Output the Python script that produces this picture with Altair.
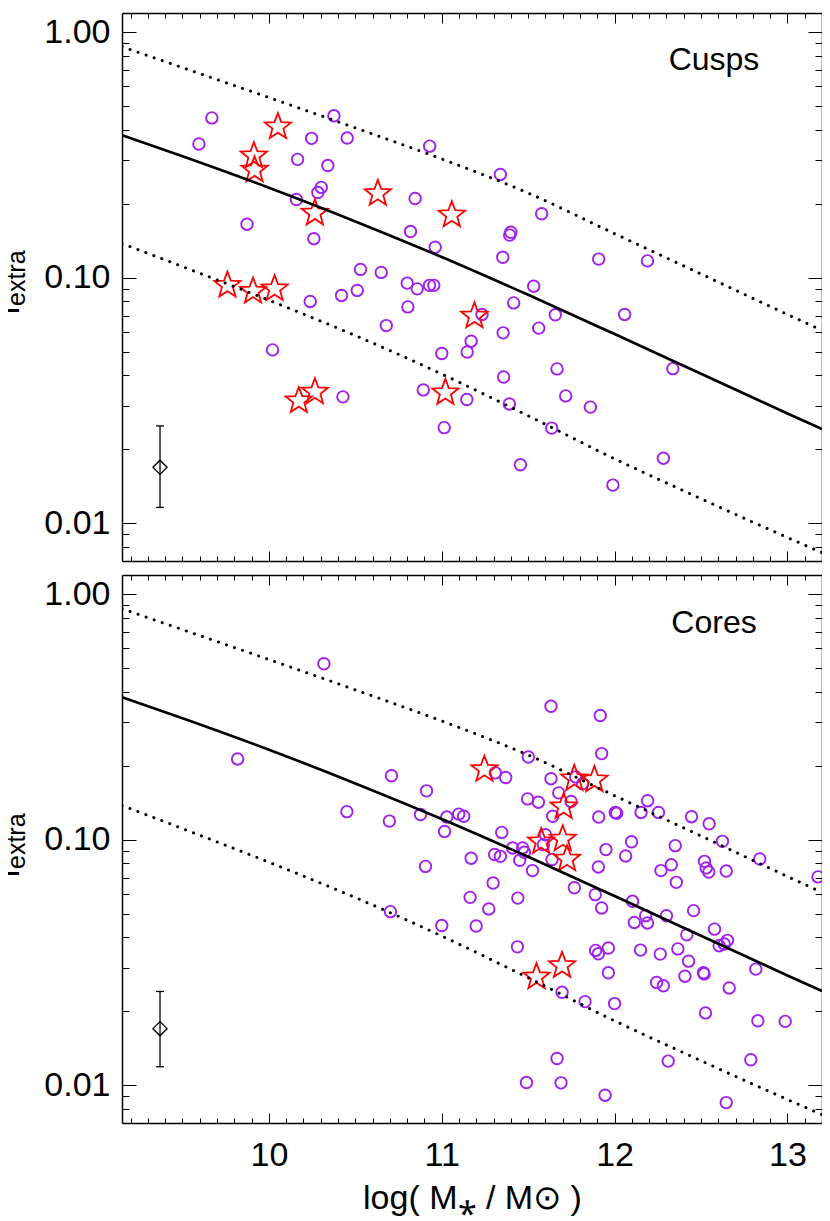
import math
import altair as alt
import pandas as pd

# ---------------- data ----------------
cusp_circ_x = [9.67, 9.595, 10.376, 10.247, 10.453, 10.166, 10.341, 10.303, 10.283, 10.159,
               10.846, 9.873, 10.26, 10.819, 10.53, 10.65, 10.80, 10.93, 11.339, 11.578,
               11.40, 11.393, 10.962, 11.353, 11.908, 12.19, 10.929, 10.954, 10.858, 10.239,
               10.42, 10.511, 10.804, 10.679, 10.021, 10.428, 11.532, 11.416, 11.233, 11.657,
               12.058, 11.355, 11.561, 11.17, 11.147, 11.0, 11.667, 12.337, 11.358, 10.893,
               11.145, 11.717, 11.391, 11.86, 11.014, 11.636, 11.455, 12.282, 11.99]
cusp_circ_y = [0.447, 0.35, 0.456, 0.369, 0.370, 0.303, 0.286, 0.233, 0.222, 0.208,
               0.21, 0.165, 0.144, 0.154, 0.108, 0.105, 0.095, 0.343, 0.263, 0.182,
               0.153, 0.149, 0.133, 0.121, 0.119, 0.117, 0.093, 0.093, 0.090, 0.080,
               0.0846, 0.0887, 0.076, 0.0638, 0.0508, 0.0327, 0.0923, 0.0789, 0.0708, 0.0706,
               0.0708, 0.0596, 0.0623, 0.0551, 0.0498, 0.0491, 0.0425, 0.0426, 0.0394, 0.0349,
               0.0319, 0.033, 0.0306, 0.0297, 0.0245, 0.0244, 0.0173, 0.0184, 0.0143]

cusp_star_x = [10.052, 9.913, 9.917, 10.63, 10.266, 11.058, 9.76, 9.908, 10.033, 10.173,
               10.266, 11.189, 11.021]
cusp_star_y = [0.411, 0.313, 0.274, 0.220, 0.183, 0.180, 0.093, 0.088, 0.090, 0.0315,
               0.0342, 0.0697, 0.034]

core_circ_x = [10.318, 9.819, 10.709, 10.451, 10.697, 11.632, 11.917, 11.925, 11.501, 11.31,
               11.37, 11.632, 11.775, 11.815, 10.912, 11.677, 11.497, 11.559, 11.748, 11.642,
               11.908, 12.004, 12.012, 12.191, 12.153, 12.254, 12.445, 12.547, 12.624, 10.877,
               11.029, 11.098, 11.127, 11.016, 11.347, 11.6, 12.098, 11.95, 12.351, 11.588,
               11.41, 11.468, 11.478, 10.906, 11.17, 11.306, 11.339, 11.451, 11.638, 11.525,
               11.906, 12.064, 12.268, 12.328, 12.357, 12.52, 12.53, 12.545, 12.646, 12.84,
               13.177, 11.297, 11.767, 11.888, 11.164, 11.44, 11.925, 11.272, 12.104, 12.457,
               12.3, 12.18, 12.19, 12.114, 11.0, 11.199, 12.418, 12.578, 12.605, 12.634,
               12.653, 11.438, 11.89, 11.906, 11.964, 12.15, 12.264, 12.366, 12.428, 12.817,
               11.964, 12.407, 12.514, 12.518, 12.243, 12.282, 12.663, 11.696, 11.829, 12.0,
               12.526, 12.829, 12.987, 11.667, 12.31, 12.788, 11.49, 11.69, 11.945, 12.646,
               10.703]
core_circ_y = [0.520, 0.213, 0.182, 0.130, 0.119, 0.349, 0.320, 0.224, 0.217, 0.187,
               0.179, 0.177, 0.180, 0.169, 0.158, 0.155, 0.1465, 0.142, 0.143, 0.1245,
               0.1236, 0.129, 0.128, 0.144, 0.129, 0.129, 0.124, 0.116, 0.0984, 0.1265,
               0.1236, 0.127, 0.1245, 0.108, 0.107, 0.1047, 0.098, 0.0911, 0.0945, 0.0954,
               0.0925, 0.0925, 0.0888, 0.0778, 0.084, 0.087, 0.0855, 0.0824, 0.083, 0.0748,
               0.0774, 0.0858, 0.0748, 0.079, 0.067, 0.0816, 0.0767, 0.0738, 0.0745, 0.0834,
               0.0705, 0.0666, 0.0637, 0.0597, 0.0582, 0.0578, 0.0527, 0.0522, 0.0561, 0.0514,
               0.049, 0.049, 0.0458, 0.046, 0.0447, 0.0445, 0.041, 0.0432, 0.037, 0.0376,
               0.0389, 0.0366, 0.0354, 0.0343, 0.0362, 0.0355, 0.0342, 0.0359, 0.032, 0.0297,
               0.0287, 0.0278, 0.0287, 0.0284, 0.0262, 0.0254, 0.0249, 0.0239, 0.0219, 0.0215,
               0.0197, 0.0183, 0.0182, 0.01285, 0.01254, 0.0127, 0.01026, 0.01023, 0.00911, 0.0085,
               0.0509]

core_star_x = [11.247, 11.767, 11.883, 11.705, 11.575, 11.70, 11.725, 11.548, 11.696]
core_star_y = [0.193, 0.177, 0.175, 0.136, 0.098, 0.1006, 0.0834, 0.0276, 0.0307]

curve_x = [9.15, 9.5, 10.0, 10.5, 11.0, 11.5, 12.0, 12.5, 13.0, 13.2]
curve_mid = [0.380, 0.3119, 0.2323, 0.1694, 0.1213, 0.0851, 0.0589, 0.0406, 0.0280, 0.0242]
curve_hi = [0.871, 0.716, 0.541, 0.407, 0.304, 0.221, 0.151, 0.1035, 0.0708, 0.0610]
curve_lo = [0.1377, 0.1109, 0.0809, 0.0581, 0.0405, 0.0274, 0.0183, 0.01259, 0.00875, 0.00759]

err_x = [9.37]
cusp_err = [0.0116, 0.0169, 0.0249]   # low, centre, high
core_err = [0.0119, 0.0170, 0.0241]

panel_labels = ["Cusps", "Cores"]

x_major = [10, 11, 12, 13]
x_minor = [round(9.2 + 0.1 * i, 1) for i in range(41) if (i + 2) % 10 != 0]
y_major = [0.01, 0.1, 1.0]
y_minor = [0.008, 0.009, 0.02, 0.03, 0.04, 0.05, 0.06, 0.07, 0.08, 0.09,
           0.2, 0.3, 0.4, 0.5, 0.6, 0.7, 0.8, 0.9]

# ---------------- styling ----------------
FONT = "Liberation Sans"
PURPLE = "#A020F0"
RED = "#FF0000"
W, H = 700, 1110
PH = 548          # panel height
TOP_RANGE = [PH, 0]
BOT_RANGE = [H, H - PH]

xs = alt.Scale(domain=[9.15, 13.2], nice=False, zero=False)
DOM = [0.00702, 1.195]
ys_top = alt.Scale(type="log", domain=DOM, range=TOP_RANGE, nice=False)
ys_bot = alt.Scale(type="log", domain=DOM, range=BOT_RANGE, nice=False)


def star_path(r_in=0.42):
    pts = []
    for k in range(10):
        ang = math.radians(-90 + 36 * k)
        r = 1.0 if k % 2 == 0 else r_in
        pts.append(f"{r * math.cos(ang):.4f},{r * math.sin(ang):.4f}")
    return "M" + "L".join(pts) + "Z"


STAR = star_path()


def enc(ys):
    return dict(x=alt.X("x:Q", scale=xs, axis=None),
                y=alt.Y("y:Q", scale=ys, axis=None))


def panel_layers(cx, cy, sx, sy, err, label, ys, dy):
    layers = []
    circ = pd.DataFrame({"x": cx, "y": cy})
    stars = pd.DataFrame({"x": sx, "y": sy})
    layers.append(alt.Chart(circ).mark_point(shape="circle", filled=False, color=PURPLE,
                                             size=132, strokeWidth=1.9, opacity=1).encode(**enc(ys)))
    layers.append(alt.Chart(stars).mark_point(shape=STAR, filled=False, color=RED,
                                              size=760, strokeWidth=1.8, opacity=1).encode(**enc(ys)))
    for vals, dash in ((curve_mid, None), (curve_hi, [0.1, 8.4]), (curve_lo, [0.1, 8.4])):
        df = pd.DataFrame({"x": curve_x, "y": vals})
        if dash is None:
            m = alt.Chart(df).mark_line(color="black", strokeWidth=2.7, clip=True,
                                        interpolate="monotone")
        else:
            m = alt.Chart(df).mark_line(color="black", strokeWidth=3.0, strokeDash=dash,
                                        strokeCap="round", clip=True, interpolate="monotone")
        layers.append(m.encode(**enc(ys)))
    # error bar
    ebar = pd.DataFrame({"x": err_x, "lo": [err[0]], "hi": [err[2]]})
    layers.append(alt.Chart(ebar).mark_rule(color="black", strokeWidth=1.3).encode(
        x=alt.X("x:Q", scale=xs, axis=None),
        y=alt.Y("lo:Q", scale=ys, axis=None), y2="hi:Q"))
    caps = pd.DataFrame({"x": err_x * 2, "y": [err[0], err[2]]})
    layers.append(alt.Chart(caps).mark_point(shape="stroke", filled=False, color="black",
                                             size=64, strokeWidth=1.3, opacity=1).encode(**enc(ys)))
    cen = pd.DataFrame({"x": err_x, "y": [err[1]]})
    layers.append(alt.Chart(cen).mark_point(shape="diamond", filled=False, color="black",
                                            size=200, strokeWidth=1.3, opacity=1).encode(**enc(ys)))
    # texts
    layers.append(alt.Chart(pd.DataFrame({"t": [label]})).mark_text(
        font=FONT, fontSize=32, color="black", align="center", baseline="alphabetic").encode(
        text="t:N", x=alt.value(592), y=alt.value(57 + dy)))
    layers.append(alt.Chart(pd.DataFrame({"t": ["f"]})).mark_text(
        font=FONT, fontSize=34, color="black", align="left", baseline="alphabetic", angle=270).encode(
        text="t:N", x=alt.value(-103), y=alt.value(302 + dy)))
    layers.append(alt.Chart(pd.DataFrame({"t": ["extra"]})).mark_text(
        font=FONT, fontSize=25, color="black", align="left", baseline="alphabetic", angle=270).encode(
        text="t:N", x=alt.value(-97), y=alt.value(293 + dy)))
    return layers


def tick_axis(orient, offset, values, size, domain=False):
    return alt.Axis(orient=orient, offset=offset, values=values, tickSize=size, ticks=True,
                    labels=False, domain=domain, domainColor="black", domainWidth=1.5,
                    tickColor="black", tickWidth=1, grid=False, title=None)


def y_label_axis():
    return alt.Axis(orient="left", values=y_major, format=".2f", ticks=False, tickSize=0,
                    labelPadding=12, labelFont=FONT, labelFontSize=34, labelColor="black",
                    domain=True, domainColor="black", domainWidth=1.5, grid=False, title=None,
                    labelFlush=False)


x_label_axis = alt.Axis(orient="bottom", offset=0, values=x_major, format="d", ticks=False,
                        tickSize=0, labelPadding=15, labelFont=FONT, labelFontSize=34,
                        labelColor="black", labelFlush=False, domain=True, domainColor="black",
                        domainWidth=1.5, grid=False,
                        title="log( M\u204e / M\u2299 )", titleFont=FONT, titleFontSize=34,
                        titleFontWeight="normal", titleColor="black", titlePadding=9)

host_df = pd.DataFrame({"x": [curve_x[1]], "y": [curve_mid[1]]})


def host(ys, xaxis, yaxis):
    return alt.Chart(host_df).mark_point(opacity=0).encode(
        x=alt.X("x:Q", scale=xs, axis=xaxis),
        y=alt.Y("y:Q", scale=ys, axis=yaxis))


hosts = [
    # top panel
    host(ys_top, tick_axis("bottom", -H, x_major, 10, domain=True), y_label_axis()),
    host(ys_top, tick_axis("bottom", -H, x_minor, 5), tick_axis("right", -W, y_major, 14)),
    host(ys_top, tick_axis("top", -PH, x_major, 10, domain=True), tick_axis("right", -W, y_minor, 7)),
    host(ys_top, tick_axis("top", -PH, x_minor, 5), tick_axis("left", -W, y_major, 14, domain=True)),
    host(ys_top, None, tick_axis("left", -W, y_minor, 7)),
    # bottom panel
    host(ys_bot, tick_axis("bottom", -PH, x_major, 10, domain=True), y_label_axis()),
    host(ys_bot, tick_axis("bottom", -PH, x_minor, 5), tick_axis("right", -W, y_major, 14)),
    host(ys_bot, tick_axis("top", -H, x_major, 10), tick_axis("right", -W, y_minor, 7)),
    host(ys_bot, tick_axis("top", -H, x_minor, 5), tick_axis("left", -W, y_major, 14, domain=True)),
    host(ys_bot, x_label_axis, tick_axis("left", -W, y_minor, 7)),
]

layers = []
layers += panel_layers(cusp_circ_x, cusp_circ_y, cusp_star_x, cusp_star_y, cusp_err,
                       panel_labels[0], ys_top, 0)
layers += panel_layers(core_circ_x, core_circ_y, core_star_x, core_star_y, core_err,
                       panel_labels[1], ys_bot, 563)
layers += hosts

chart = alt.layer(*layers).resolve_scale(y="independent").resolve_axis(
    x="independent", y="independent").properties(
    width=W, height=H,
    autosize=alt.AutoSizeParams(type="none"),
    padding={"left": 114, "top": 5, "right": 0, "bottom": 98},
).configure_view(stroke=None)

chart.save("out.html", embed_options={"renderer": "svg", "actions": False})
